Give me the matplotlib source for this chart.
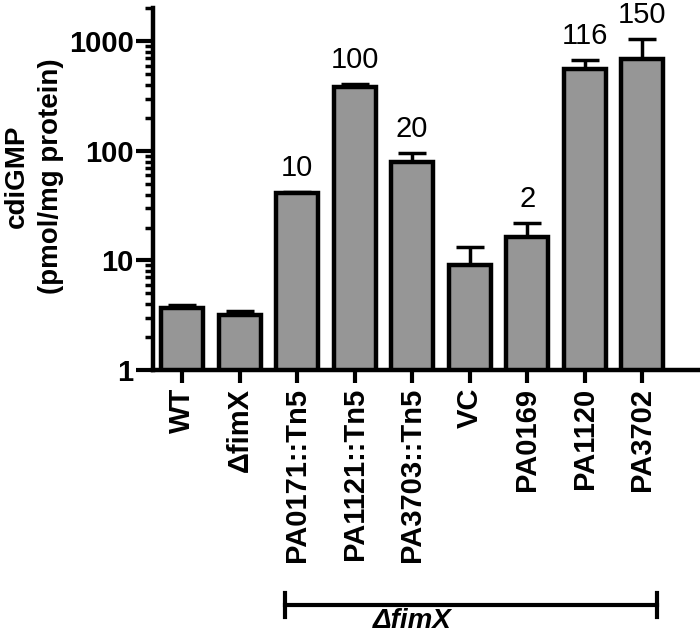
import matplotlib
matplotlib.use("Agg")
import matplotlib.pyplot as plt
import matplotlib.transforms as mtransforms
from matplotlib.ticker import LogLocator, NullFormatter, FixedLocator

plt.rcParams['font.family'] = ['Liberation Sans', 'DejaVu Sans']

categories = ["WT", "\u0394fimX", "PA0171::Tn5", "PA1121::Tn5", "PA3703::Tn5",
              "VC", "PA0169", "PA1120", "PA3702"]
means = [3.7, 3.2, 41, 384, 79, 9.1, 16.4, 561, 693]
err_up = [0.25, 0.25, 1.5, 25, 17, 4.2, 5.6, 117, 357]
annot = ["", "", "10", "100", "20", "", "2", "116", "150"]
ytick_vals = [1, 10, 100, 1000]
ytick_labels = ["1", "10", "100", "1000"]

fig = plt.figure(figsize=(7.0, 6.35), dpi=100)
ax = fig.add_axes([153/700, (635-370)/635, (698-153)/700, (370-8)/635])

x = list(range(len(categories)))
ax.bar(x, means, width=0.73, color="#969696", edgecolor="black", linewidth=3.2,
       zorder=2)
ax.errorbar(x, means, yerr=[[0]*len(means), err_up], fmt="none", ecolor="black",
            elinewidth=2.5, capsize=10, capthick=2.5, zorder=1)

ax.set_yscale("log")
ax.set_ylim(1, 2020)
ax.set_xlim(-0.505, 8.97)

ax.yaxis.set_major_locator(FixedLocator(ytick_vals))
ax.set_yticklabels(ytick_labels, fontsize=21, fontweight="bold")
ax.yaxis.set_minor_locator(LogLocator(base=10, subs=range(2, 10)))
ax.yaxis.set_minor_formatter(NullFormatter())
ax.tick_params(axis="y", which="major", length=12, width=3, pad=2)
ax.tick_params(axis="y", which="minor", length=6, width=2.5)

ax.set_xticks(x)
ax.set_xticklabels(categories, rotation=90, fontsize=21, fontweight="bold")
ax.tick_params(axis="x", which="major", length=9, width=3, pad=4)

for s in ["top", "right"]:
    ax.spines[s].set_visible(False)
for s in ["left", "bottom"]:
    ax.spines[s].set_linewidth(3.2)

for xi, m, e, a in zip(x, means, err_up, annot):
    if a:
        ax.annotate(a, (xi, m + e), xytext=(0, 7), textcoords="offset points",
                    ha="center", va="bottom", fontsize=21)

ax.set_ylabel("cdiGMP\n(pmol/mg protein)", fontsize=20, fontweight="bold",
              linespacing=1.4)
ax.yaxis.set_label_coords(-0.163, 0.536)

# bracket
trans = mtransforms.blended_transform_factory(ax.transData, fig.transFigure)
y_line = (635 - 605) / 635
x0, x1 = 1.79, 8.26
ax.plot([x0, x1], [y_line, y_line], transform=trans, color="black", lw=3,
        clip_on=False)
for xe in (x0, x1):
    ax.plot([xe, xe], [y_line - 12/635, y_line + 12/635], transform=trans,
            color="black", lw=3, clip_on=False)
ax.text(4.0, 1 / 635, "\u0394fimX", transform=trans, ha="center",
        va="bottom", fontsize=20, fontweight="bold", fontstyle="italic")

fig.savefig("out.png", dpi=100)
